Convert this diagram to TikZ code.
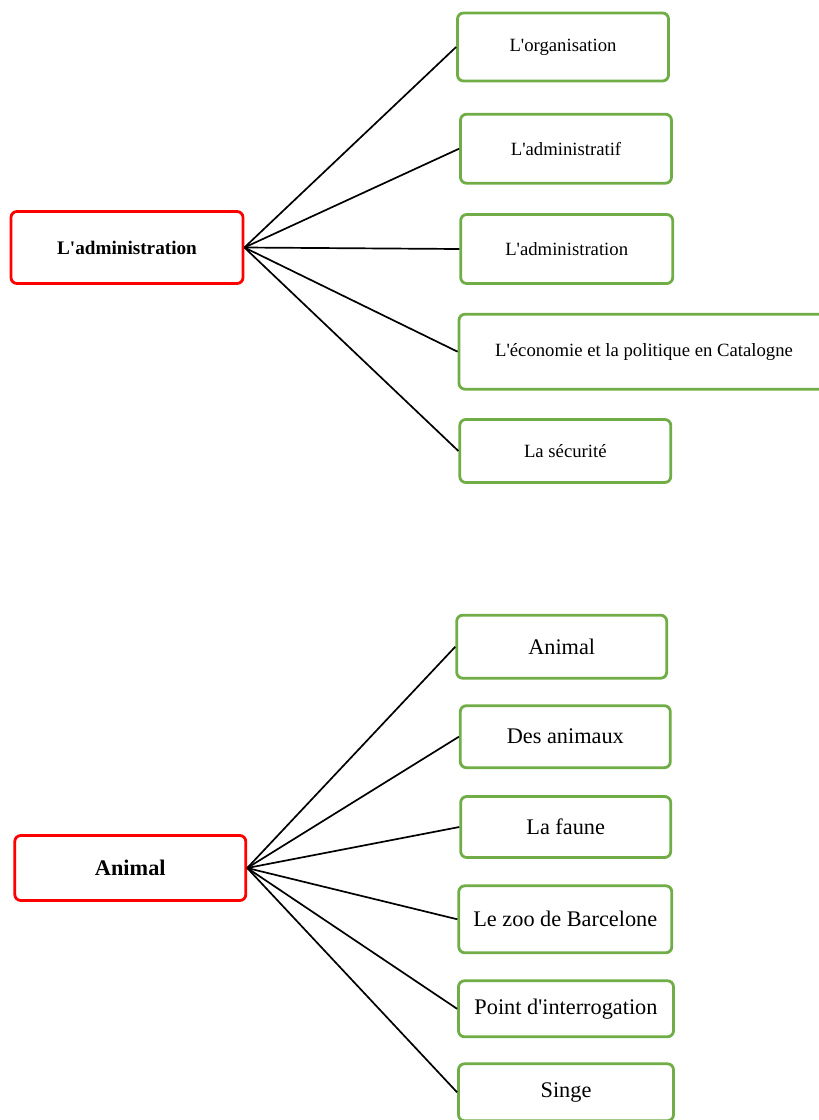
\documentclass[tikz,border=0pt]{standalone}
\usepackage{fontspec}
\setmainfont{Liberation Serif}
\definecolor{boxgreen}{HTML}{70AD47}
\definecolor{boxred}{HTML}{FF0000}
\begin{document}
\begin{tikzpicture}[x=1pt,y=-1pt,
  rootbox/.style={draw=boxred,line width=2.8pt,rounded corners=6pt,fill=white,inner sep=0pt,font=\bfseries},
  leafbox/.style={draw=boxgreen,line width=2.8pt,rounded corners=6pt,fill=white,inner sep=0pt},
  topfont/.style={font=\fontsize{18.7}{22}\selectfont},
  topbold/.style={font=\fontsize{19.2}{23}\selectfont\bfseries},
  botfont/.style={font=\fontsize{22.3}{26}\selectfont},
  botbold/.style={font=\fontsize{22.3}{26}\selectfont\bfseries},
  link/.style={draw=black,line width=1.7pt}]
\useasboundingbox (0,0) rectangle (819,1120);
% top group
\node[rootbox,topbold,minimum width=232pt,minimum height=72pt] (r1) at (127,247.5) {L\textquotesingle administration};
\node[leafbox,topfont,minimum width=211pt,minimum height=68pt] (a1) at (563,47) {L\textquotesingle organisation};
\node[leafbox,topfont,minimum width=211pt,minimum height=69pt] (a2) at (566,148.7) {L\textquotesingle administratif};
\node[leafbox,topfont,minimum width=212pt,minimum height=69pt] (a3) at (566.7,249) {L\textquotesingle administration};
\node[leafbox,topfont,minimum width=370pt,minimum height=75pt] (a4) at (644,351.7) {L\textquotesingle économie et la politique en Catalogne};
\node[leafbox,topfont,minimum width=211pt,minimum height=63pt] (a5) at (565.3,451) {La sécurité};
\foreach \n in {a1,a2,a3,a4,a5} \draw[link] (r1.east) -- (\n.west);
% bottom group
\node[rootbox,botbold,minimum width=231pt,minimum height=65pt] (r2) at (130.3,868) {Animal};
\node[leafbox,botfont,minimum width=210pt,minimum height=63pt] (b1) at (561.7,646.7) {Animal};
\node[leafbox,botfont,minimum width=210pt,minimum height=62pt] (b2) at (565.3,736.7) {Des animaux};
\node[leafbox,botfont,minimum width=210pt,minimum height=61pt] (b3) at (565.7,827) {La faune};
\node[leafbox,botfont,minimum width=213pt,minimum height=67pt] (b4) at (565.3,919.3) {Le zoo de Barcelone};
\node[leafbox,botfont,minimum width=215pt,minimum height=56pt] (b5) at (566,1008.8) {Point d\textquotesingle interrogation};
\node[leafbox,botfont,minimum width=215pt,minimum height=57pt] (b6) at (566,1092.3) {Singe};
\foreach \n in {b1,b2,b3,b4,b5,b6} \draw[link] (r2.east) -- (\n.west);
\end{tikzpicture}
\end{document}
